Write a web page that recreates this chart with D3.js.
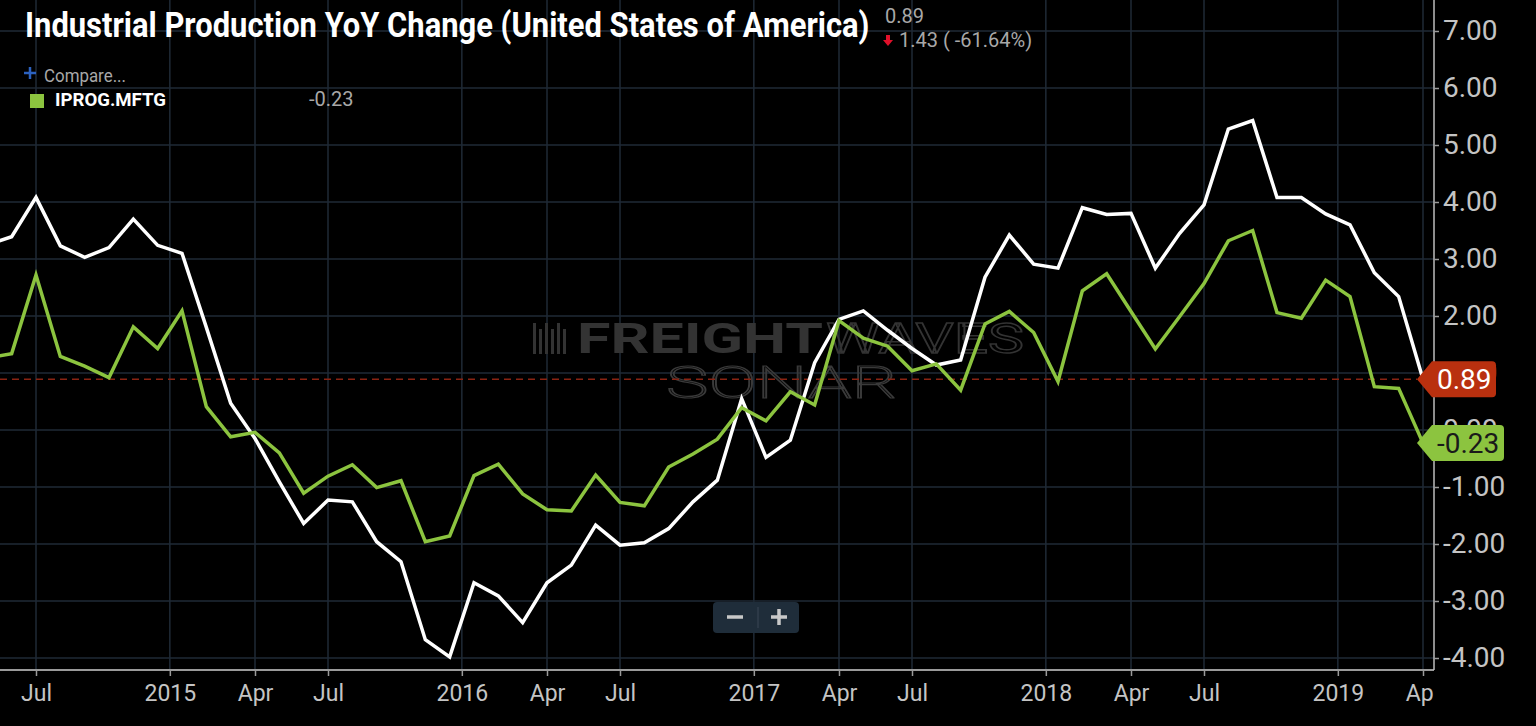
<!DOCTYPE html>
<html>
<head>
<meta charset="utf-8">
<script src="https://cdn.jsdelivr.net/npm/d3@7"></script>
<style>
  html, body { margin: 0; padding: 0; background: #000; }
  svg { display: block; }
  text { font-family: Roboto, "Noto Sans", sans-serif; }
</style>
</head>
<body>
<svg id="chart" width="1536" height="726"></svg>
<script>
// monthly points, May 2014 .. Apr 2019
var startMonth = "2014-05";
var usIndustrial = [
  3.25, 3.39, 4.08, 3.23, 3.03, 3.20, 3.70, 3.24,
  3.10, 1.80, 0.47, -0.15, -0.91, -1.64, -1.23, -1.26, -1.96, -2.31, -3.68, -3.98,
  -2.68, -2.91, -3.38, -2.68, -2.37, -1.67, -2.02, -1.98, -1.73, -1.26, -0.88, 0.55,
  -0.48, -0.18, 1.18, 1.94, 2.09, 1.75, 1.43, 1.14, 1.23, 2.68, 3.42, 2.91,
  2.84, 3.90, 3.78, 3.80, 2.84, 3.45, 3.95, 5.28, 5.43, 4.08, 4.08, 3.79,
  3.60, 2.76, 2.34, 0.89
];
var manufacturing = [
  1.26, 1.34, 2.72, 1.29, 1.12, 0.92, 1.81, 1.43,
  2.09, 0.41, -0.12, -0.04, -0.40, -1.11, -0.81, -0.61, -1.01, -0.89, -1.96, -1.86,
  -0.80, -0.60, -1.12, -1.40, -1.42, -0.79, -1.27, -1.33, -0.65, -0.42, -0.16, 0.39,
  0.16, 0.67, 0.44, 1.92, 1.61, 1.47, 1.04, 1.16, 0.70, 1.86, 2.08, 1.71,
  0.85, 2.44, 2.74, 2.08, 1.42, 1.99, 2.57, 3.32, 3.50, 2.06, 1.96, 2.63,
  2.34, 0.76, 0.73, -0.23
];
// x tick positions in months from May 2014 (year labels sit half a month before January)
var xTickPos    = [2, 7.5, 11, 14, 19.5, 23, 26, 31.5, 35, 38, 43.5, 47, 50, 55.5, 59];
var xTickLabels = ["Jul", "2015", "Apr", "Jul", "2016", "Apr", "Jul", "2017", "Apr", "Jul",
                   "2018", "Apr", "Jul", "2019", "Apr"];
var yTicks = [-4, -3, -2, -1, 0, 1, 2, 3, 4, 5, 6, 7];

var title = "Industrial Production YoY Change (United States of America)";
var lastValue = 0.89, prevValue = 1.43, pctChange = "-61.64%";
var compareName = "IPROG.MFTG", compareLast = -0.23;

var W = 1536, H = 726;
var plotRight = 1434, plotBottom = 670;

var svg = d3.select("#chart");
svg.append("rect").attr("width", W).attr("height", H).attr("fill", "#000");

var x = d3.scaleLinear().domain([2, 59]).range([36, 1423]);
var y = d3.scaleLinear().domain([-4, 7]).range([658, 31]);

var defs = svg.append("defs");
defs.append("clipPath").attr("id", "plotClip")
  .append("rect").attr("x", 0).attr("y", 0).attr("width", plotRight).attr("height", plotBottom);
// x axis group is translated to the bottom, so this clip is in its own coordinates
defs.append("clipPath").attr("id", "xAxisClip")
  .append("rect").attr("x", 0).attr("y", -3).attr("width", plotRight).attr("height", H - plotBottom + 3);

// grid
var grid = svg.append("g");
grid.selectAll(".hg").data(yTicks).enter().append("line")
  .attr("x1", 0).attr("x2", plotRight)
  .attr("y1", function (d) { return y(d); }).attr("y2", function (d) { return y(d); })
  .attr("stroke", "#1f2a36").attr("stroke-width", 1.5);
grid.selectAll(".vg").data(xTickPos).enter().append("line")
  .attr("x1", function (d) { return x(d); }).attr("x2", function (d) { return x(d); })
  .attr("y1", 0).attr("y2", plotBottom)
  .attr("stroke", "#1f2a36").attr("stroke-width", 1.5);

// watermark
var wm = svg.append("g").attr("fill", "#333");
[0, 6, 12, 18, 24, 30].forEach(function (dx, k) {
  wm.append("rect").attr("x", 533 + dx).attr("y", 323 + (k % 2 ? 6 : 0))
    .attr("width", 3).attr("height", k % 2 ? 25 : 31);
});
wm.append("text").attr("x", 577).attr("y", 353)
  .attr("font-family", "DejaVu Sans").attr("font-weight", 700).attr("font-size", 43)
  .attr("textLength", 246).attr("lengthAdjust", "spacingAndGlyphs").text("FREIGHT");
wm.append("text").attr("x", 826).attr("y", 353)
  .attr("font-family", "DejaVu Sans").attr("font-size", 43)
  .attr("fill", "none").attr("stroke", "#333").attr("stroke-width", 1.4)
  .attr("textLength", 198).attr("lengthAdjust", "spacingAndGlyphs").text("WAVES");
wm.append("text").attr("x", 666).attr("y", 398)
  .attr("font-family", "DejaVu Sans").attr("font-weight", 200).attr("font-size", 44)
  .attr("fill", "none").attr("stroke", "#3a3a3a").attr("stroke-width", 1.2)
  .attr("textLength", 232).attr("lengthAdjust", "spacingAndGlyphs").text("SONAR");

// last value reference line
svg.append("line")
  .attr("x1", 0).attr("x2", 1417)
  .attr("y1", y(lastValue)).attr("y2", y(lastValue))
  .attr("stroke", "#8a2413").attr("stroke-width", 1.5).attr("stroke-dasharray", "7,5");

// series
var line = d3.line()
  .x(function (d, i) { return x(i); })
  .y(function (d) { return y(d); });
var plot = svg.append("g").attr("clip-path", "url(#plotClip)");
plot.append("path").datum(usIndustrial)
  .attr("d", line).attr("fill", "none").attr("stroke", "#fff")
  .attr("stroke-width", 3.5).attr("stroke-linejoin", "miter");
plot.append("path").datum(manufacturing)
  .attr("d", line).attr("fill", "none").attr("stroke", "#8cc43f")
  .attr("stroke-width", 3.5).attr("stroke-linejoin", "miter");

// x axis
var xAxis = svg.append("g")
  .attr("transform", "translate(0," + plotBottom + ")")
  .attr("clip-path", "url(#xAxisClip)")
  .call(d3.axisBottom(x).tickValues(xTickPos).tickSize(6).tickPadding(9)
    .tickFormat(function (d, i) { return xTickLabels[i]; }));
xAxis.select(".domain").attr("d", "M0,0H" + plotRight).attr("stroke", "#9a9a9a").attr("stroke-width", 2);
xAxis.selectAll(".tick line").attr("stroke", "#9a9a9a").attr("stroke-width", 1.5);
xAxis.selectAll(".tick text").attr("fill", "#c4c4c4").attr("font-size", 23)
  .attr("font-family", "Roboto");

// y axis
var yAxis = svg.append("g")
  .attr("transform", "translate(" + plotRight + ",0)")
  .call(d3.axisRight(y).tickValues(yTicks).tickSize(5).tickPadding(4)
    .tickFormat(function (d) { return d.toFixed(2); }));
yAxis.select(".domain").attr("d", "M0,0V" + plotBottom).attr("stroke", "#bdbdbd").attr("stroke-width", 1.5);
yAxis.selectAll(".tick line").attr("stroke", "#9a9a9a").attr("stroke-width", 1.5);
yAxis.selectAll(".tick text").attr("fill", "#c4c4c4").attr("font-size", 28)
  .attr("font-family", "Roboto");

// value tags
function tag(v, right, fill, textFill) {
  var ty = y(v);
  var p = d3.path();
  p.moveTo(1417, ty);
  p.lineTo(1432, ty - 18);
  p.lineTo(right - 4, ty - 18);
  p.quadraticCurveTo(right, ty - 18, right, ty - 14);
  p.lineTo(right, ty + 14);
  p.quadraticCurveTo(right, ty + 18, right - 4, ty + 18);
  p.lineTo(1432, ty + 18);
  p.closePath();
  svg.append("path").attr("d", p.toString()).attr("fill", fill);
  svg.append("text").attr("x", 1437).attr("y", ty).attr("dy", "0.36em")
    .attr("font-size", 28).attr("fill", textFill).text(v.toFixed(2));
}
tag(lastValue, 1496, "#b9300f", "#fff");
tag(compareLast, 1504, "#8cc43f", "#1a1a1a");

// header: condensed bold title, squeezed to the width it has in the original
var titleText = svg.append("text")
  .attr("font-size", 35).attr("font-weight", 700).attr("fill", "#fff").text(title);
var squeeze = 845 / titleText.node().getComputedTextLength();
titleText.attr("transform", "translate(25,37) scale(" + squeeze + ",1)");

svg.append("text").attr("x", 885).attr("y", 23)
  .attr("font-size", 20).attr("fill", "#a8a8a8").text(lastValue.toFixed(2));
svg.append("path").attr("d", "M886,35h4v5h3l-5,6l-5,-6h3z").attr("fill", "#e0102a");
svg.append("text").attr("x", 899).attr("y", 47)
  .attr("font-size", 20).attr("fill", "#a8a8a8")
  .text(prevValue.toFixed(2) + " ( " + pctChange + ")");

// legend
svg.append("path").attr("d", "M24,73h12M30,67v12").attr("stroke", "#2c62c0").attr("stroke-width", 2.5);
svg.append("text").attr("x", 44).attr("y", 82)
  .attr("font-size", 18).attr("fill", "#a8a8a8")
  .attr("textLength", 82).attr("lengthAdjust", "spacingAndGlyphs").text("Compare...");
svg.append("rect").attr("x", 30).attr("y", 94).attr("width", 14).attr("height", 14).attr("fill", "#8cc43f");
svg.append("text").attr("x", 55).attr("y", 106)
  .attr("font-size", 18).attr("font-weight", 700).attr("fill", "#fff")
  .attr("textLength", 111).attr("lengthAdjust", "spacingAndGlyphs").text(compareName);
svg.append("text").attr("x", 309).attr("y", 106)
  .attr("font-size", 20).attr("fill", "#a8a8a8").text(compareLast.toFixed(2));

// zoom buttons
var zb = svg.append("g");
zb.append("rect").attr("x", 713).attr("y", 602).attr("width", 86).attr("height", 31)
  .attr("rx", 4).attr("fill", "#1f2d3a");
zb.append("line").attr("x1", 758).attr("x2", 758).attr("y1", 607).attr("y2", 628)
  .attr("stroke", "#3a4754").attr("stroke-width", 1);
zb.append("path").attr("d", "M727,617h16M771,617h16M779,609v16")
  .attr("stroke", "#c8c8c8").attr("stroke-width", 3.5);
</script>
</body>
</html>
